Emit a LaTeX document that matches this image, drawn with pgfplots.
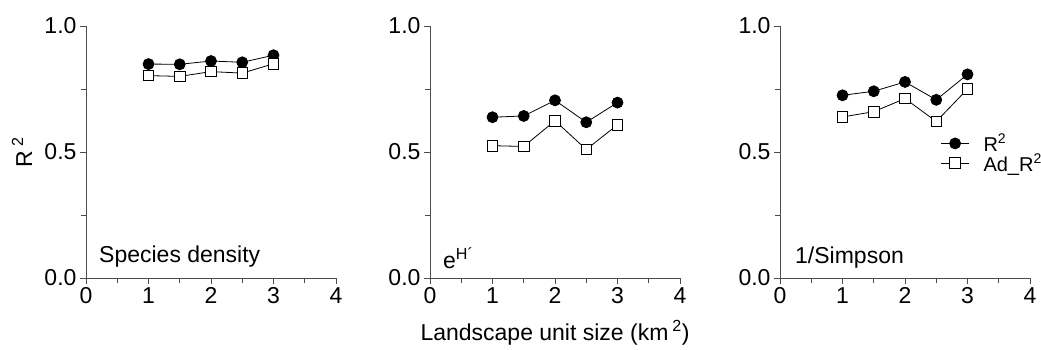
\documentclass[border=0pt]{standalone}
\usepackage{pgfplots}
\pgfplotsset{compat=1.18}
\usepackage{fontspec}
\setmainfont{Liberation Sans}

\pgfplotstableread{
x    r2     adr2
1    0.849  0.803
1.5  0.848  0.800
2    0.861  0.819
2.5  0.856  0.813
3    0.884  0.850
}\tabA
\pgfplotstableread{
x    r2     adr2
1    0.638  0.525
1.5  0.643  0.522
2    0.705  0.624
2.5  0.618  0.510
3    0.696  0.608
}\tabB
\pgfplotstableread{
x    r2     adr2
1    0.725  0.639
1.5  0.741  0.660
2    0.778  0.712
2.5  0.707  0.621
3    0.808  0.750
}\tabC

\pgfplotsset{
  panel/.style={
    scale only axis, width=250pt, height=252pt,
    anchor=south west,
    xmin=0, xmax=4, ymin=0, ymax=1,
    axis x line*=bottom, axis y line*=left,
    axis line style={-, black!70, line width=0.9pt},
    xtick={0,1,2,3,4}, minor xtick={0.5,1.5,2.5,3.5},
    ytick={0,0.5,1}, minor ytick={0.25,0.75},
    tick align=outside,
    major tick length=6pt, minor tick length=5pt,
    every tick/.style={black!70, line width=0.9pt},
    clip=false,
    tick label style={font=\fontsize{23}{23}\selectfont},
    /pgf/number format/assume math mode=true,
    yticklabel style={/pgf/number format/.cd, fixed, fixed zerofill, precision=1},
    xticklabel style={/pgf/number format/.cd, fixed, precision=0},
    r2/.style={black, line width=0.8pt, mark=*, mark size=5.5pt, mark options={fill=black}},
    ad/.style={black, line width=0.8pt, mark=square*, mark size=5.3pt, mark options={fill=white, line width=0.9pt}},
    legend image code/.code={\draw[mark repeat=2,mark phase=2,#1] plot coordinates {(0pt,0pt)(14pt,0pt)(28pt,0pt)};},
  }
}

\begin{document}
\begin{tikzpicture}
\useasboundingbox (0,0) rectangle (1041pt,350pt);

\begin{axis}[panel, at={(86pt,72pt)},
  ylabel={R\hspace{4pt}\textsuperscript{2}},
  ylabel style={font=\fontsize{23}{23}\selectfont, at={(rel axis cs:0,0.5)}, anchor=center, yshift=64pt},
]
\addplot[r2] table[x=x,y=r2]{\tabA};
\addplot[ad] table[x=x,y=adr2]{\tabA};
\node[anchor=base west, inner sep=0pt, font=\fontsize{23}{23}\selectfont] at (rel axis cs:0.052,0.06) {Species density};
\end{axis}

\begin{axis}[panel, at={(430pt,72pt)},
  xlabel={Landscape unit size (km\,\textsuperscript{2})},
  xlabel style={font=\fontsize{23}{23}\selectfont, yshift=-10pt},
]
\addplot[r2] table[x=x,y=r2]{\tabB};
\addplot[ad] table[x=x,y=adr2]{\tabB};
\node[anchor=base west, inner sep=0pt, font=\fontsize{23}{23}\selectfont] at (rel axis cs:0.052,0.036) {e\textsuperscript{H´}};
\end{axis}

\begin{axis}[panel, at={(780pt,72pt)},
  legend style={draw=none, fill=none, at={(rel axis cs:0.63,0.588)}, anchor=north west,
    font=\fontsize{20}{20}\selectfont, row sep=-3pt, column sep=12pt,
    nodes={inner sep=2pt}},
  legend cell align=left,
]
\addplot[r2] table[x=x,y=r2]{\tabC};
\addlegendentry{R\textsuperscript{2}}
\addplot[ad] table[x=x,y=adr2]{\tabC};
\addlegendentry{Ad\_R\textsuperscript{2}}
\node[anchor=base west, inner sep=0pt, font=\fontsize{23}{23}\selectfont] at (rel axis cs:0.06,0.056) {1/Simpson};
\end{axis}
\end{tikzpicture}
\end{document}
